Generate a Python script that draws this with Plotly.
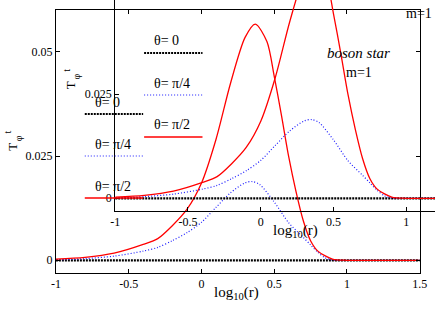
import plotly.graph_objects as go

# ---- data ----
x_zero = [-1, 1.5]
theta0 = [0.0, 0.0]

x_quarter = [-1, -0.8, -0.6, -0.4, -0.3, -0.2, -0.1, 0, 0.1, 0.2, 0.3, 0.35, 0.4, 0.5,
             0.6, 0.7, 0.75, 0.8, 0.85, 0.9, 1.0, 1.5]
theta_quarter = [0.0001, 0.0004, 0.001, 0.0022, 0.0031, 0.0047, 0.0066, 0.0091, 0.0127, 0.0162,
                 0.0186, 0.0189, 0.0182, 0.014, 0.009, 0.0055, 0.0037, 0.0019, 0.0006, 0.0001,
                 0.0, 0.0]

x_half = [-1, -0.8, -0.6, -0.4, -0.3, -0.2, -0.1, 0, 0.1, 0.2, 0.3, 0.37, 0.45, 0.5, 0.55,
          0.6, 0.65, 0.7, 0.75, 0.8, 0.9, 1.0, 1.2, 1.5]
theta_half = [0.0003, 0.0007, 0.0017, 0.0038, 0.0052, 0.0083, 0.0122, 0.0185, 0.029, 0.0425,
              0.0535, 0.0567, 0.0525, 0.0442, 0.0348, 0.0248, 0.0165, 0.0095, 0.0047, 0.0022,
              0.0003, 0.0, 0.0, 0.0]

x_ticks_main = [-1, -0.5, 0, 0.5, 1, 1.5]
x_tick_text_main = ["-1", "-0.5", "0", "0.5", "1", "1.5"]
y_ticks = [0, 0.025, 0.05]
y_tick_text = ["0", "0.025", "0.05"]
legend_labels = ["θ= 0", "θ= π/4", "θ= π/2"]

W, H = 442, 309
FONT = "Liberation Serif, Times New Roman, serif"


def px(x):
    return x / W


def py(y):
    return 1 - y / H


styles = [
    dict(color="#000000", width=2.2, dash="2px,1px"),
    dict(color="#1a1aff", width=1.2, dash="1px,2px"),
    dict(color="#ff0000", width=1.3, dash="solid"),
]
series = [(x_zero, theta0), (x_quarter, theta_quarter), (x_half, theta_half)]

fig = go.Figure()
for xa, ya in (("x", "y"), ("x2", "y2")):
    for (xs, ys), st, name in zip(series, styles, legend_labels):
        fig.add_trace(go.Scatter(
            x=xs, y=ys, mode="lines", name=name, xaxis=xa, yaxis=ya,
            line=dict(color=st["color"], width=st["width"], dash=st["dash"],
                      shape="spline", smoothing=0.8),
            showlegend=False, hoverinfo="skip"))

axis_common = dict(showgrid=False, zeroline=False, showline=True, linecolor="black",
                   linewidth=1, ticks="inside", ticklen=4, tickcolor="black", tickwidth=1,
                   tickfont=dict(family=FONT, size=12, color="black"))

# main plot frame 52..426 x 10..273 px; the second copy is shifted by (+61, -62) px
ymin = -0.00305
yscale = 4166.0
xscale = 149.6
fig.update_layout(
    width=W, height=H, autosize=False,
    margin=dict(l=0, r=0, t=0, b=0),
    paper_bgcolor="white", plot_bgcolor="rgba(0,0,0,0)",
    xaxis=dict(domain=[px(52.3), px(426.3)], range=[-1, 1.5], tickvals=x_ticks_main,
               ticktext=x_tick_text_main, mirror="ticks", anchor="y", **axis_common),
    yaxis=dict(domain=[py(273), py(10)], range=[ymin, ymin + 263 / yscale], tickvals=y_ticks,
               ticktext=y_tick_text, mirror="ticks", anchor="x", **axis_common),
    xaxis2=dict(domain=[px(113.3), 1], range=[-1, -1 + (W - 113.3) / xscale],
                tickvals=x_ticks_main, ticktext=x_tick_text_main, mirror=False, anchor="y2",
                **axis_common),
    yaxis2=dict(domain=[py(211), 1], range=[ymin, ymin + 211 / yscale], tickvals=y_ticks,
                ticktext=y_tick_text, mirror=False, anchor="x2", **axis_common),
)

annotations = []
shapes = []


def text(x, y, t, size=14, xanchor="center", italic=False, angle=0):
    annotations.append(dict(
        x=px(x), y=py(y), xref="paper", yref="paper", text=t, showarrow=False,
        xanchor=xanchor, yanchor="middle", textangle=angle,
        font=dict(family=FONT, size=size, color="black",
                  style="italic" if italic else "normal")))


# legends (text above a sample line), one for each copy of the plot
for lx, ly in ((82, 114), (143, 53)):
    for i, (lab, st) in enumerate(zip(legend_labels, styles)):
        yl = ly + i * 42
        text(lx + 8, yl - 12, lab, size=14, xanchor="left")
        shapes.append(dict(type="line", xref="paper", yref="paper",
                           x0=px(lx), x1=px(lx + 60), y0=py(yl), y1=py(yl),
                           line=dict(color=st["color"], width=st["width"], dash=st["dash"])))

# axis titles for both copies
for dx, dy in ((0, 0), (61, -62)):
    text(237.5 + dx, 293 + dy, "log<sub>10</sub>(r)", size=15)
    text(7 + dx, 147 + dy, "T", size=13, angle=-90)
    text(13.5 + dx, 138 + dy, "φ", size=10, angle=-90)
    text(2.5 + dx, 132 + dy, "t", size=10, angle=-90)

text(363, 53, "boson star", size=15, italic=True)
text(364, 73, "m=1", size=14)
text(426, 13, "m=1", size=14)

fig.update_layout(annotations=annotations, shapes=shapes)
fig.write_html("out.html", config={"displayModeBar": False},
               post_script="document.body.style.margin='0';document.body.style.overflow='hidden';")
